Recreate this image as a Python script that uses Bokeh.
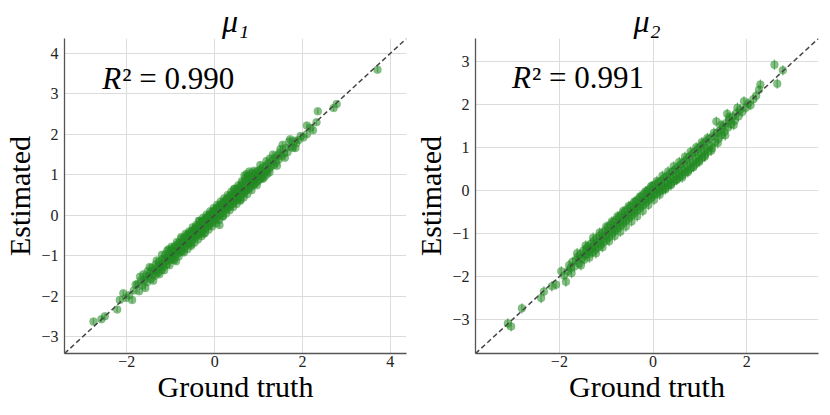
from bokeh.plotting import figure
from bokeh.layouts import row
from bokeh.models import ColumnDataSource, Label, Slope, FixedTicker
from bokeh.embed import file_html
from bokeh.resources import INLINE

# ---------------- data ----------------
titles = ["μ₁", "μ₂"]
r2_texts = ["0.990", "0.991"]
xlabel = "Ground truth"
ylabel = "Estimated"

mu1_true = [
    -2.76, -2.58, -2.50, -2.22, -2.16, -2.08, -2.02, -1.95, -1.88, -1.84,
    -1.80, -1.76, -1.72, -1.68, -1.65, -1.62, -1.60, -1.57, -1.54, -1.52,
    -1.50, -1.47, -1.45, -1.43, -1.41, -1.38, -1.36, -1.34, -1.33, -1.30,
    -1.29, -1.27, -1.25, -1.23, -1.21, -1.19, -1.18, -1.16, -1.14, -1.12,
    -1.11, -1.09, -1.07, -1.05, -1.04, -1.02, -1.00, -0.99, -0.97, -0.96,
    -0.94, -0.93, -0.91, -0.90, -0.88, -0.87, -0.85, -0.84, -0.83, -0.81,
    -0.80, -0.79, -0.77, -0.76, -0.75, -0.73, -0.72, -0.71, -0.69, -0.68,
    -0.67, -0.65, -0.64, -0.63, -0.61, -0.60, -0.59, -0.57, -0.56, -0.55,
    -0.53, -0.52, -0.51, -0.49, -0.48, -0.47, -0.45, -0.44, -0.43, -0.41,
    -0.40, -0.39, -0.37, -0.36, -0.35, -0.33, -0.32, -0.31, -0.29, -0.28,
    -0.27, -0.25, -0.24, -0.23, -0.21, -0.20, -0.19, -0.17, -0.16, -0.15,
    -0.13, -0.12, -0.11, -0.09, -0.08, -0.07, -0.05, -0.04, -0.03, -0.01,
    0.00, 0.01, 0.03, 0.04, 0.05, 0.07, 0.08, 0.09, 0.11, 0.12,
    0.13, 0.15, 0.16, 0.17, 0.19, 0.20, 0.21, 0.23, 0.24, 0.25,
    0.27, 0.28, 0.29, 0.31, 0.32, 0.33, 0.35, 0.36, 0.37, 0.39,
    0.40, 0.41, 0.43, 0.44, 0.45, 0.47, 0.48, 0.49, 0.51, 0.52,
    0.53, 0.55, 0.56, 0.57, 0.59, 0.60, 0.61, 0.63, 0.64, 0.65,
    0.67, 0.68, 0.69, 0.71, 0.72, 0.73, 0.75, 0.76, 0.77, 0.79,
    0.80, 0.82, 0.83, 0.85, 0.86, 0.88, 0.89, 0.91, 0.92, 0.94,
    0.95, 0.97, 0.98, 1.00, 1.02, 1.03, 1.05, 1.07, 1.08, 1.10,
    1.12, 1.14, 1.16, 1.18, 1.20, 1.22, 1.24, 1.26, 1.28, 1.31,
    1.34, 1.37, 1.40, 1.43, 1.46, 1.49, 1.52, 1.55, 1.58, 1.62,
    1.66, 1.70, 1.74, 1.78, 1.82, 1.86, 1.91, 1.96, 2.02, 2.10,
    2.10, 2.18, 2.24, 2.32, 2.35, 2.71, 2.78, 3.71,
    -1.70, -1.58, -1.48, -1.40, -1.32, -1.26, -1.20, -1.15, -1.08, -1.03,
    -0.98, -0.92, -0.86, -0.82, -0.76, -0.70, -0.66, -0.62, -0.58, -0.54,
    -0.50, -0.46, -0.42, -0.38, -0.34, -0.30, -0.26, -0.22, -0.18, -0.14,
    -0.10, -0.06, -0.02, 0.02, 0.06, 0.10, 0.14, 0.18, 0.22, 0.26,
    0.30, 0.34, 0.38, 0.42, 0.46, 0.50, 0.54, 0.58, 0.62, 0.66,
    0.70, 0.74, 0.78, 0.84, 0.90, 0.96, 1.04, 1.10, 1.18, 1.25,
    1.33, 1.42, 1.50, 1.60, 1.72, 1.84,
]
mu1_est = [
    -2.63, -2.57, -2.50, -2.33, -2.10, -1.93, -2.05, -1.98, -2.10, -1.86,
    -1.72, -1.70, -1.88, -1.62, -1.74, -1.46, -1.60, -1.52, -1.66, -1.38,
    -1.50, -1.42, -1.58, -1.30, -1.46, -1.36, -1.50, -1.22, -1.38, -1.28,
    -1.42, -1.15, -1.30, -1.22, -1.36, -1.08, -1.20, -1.28, -1.06, -1.14,
    -0.96, -1.22, -1.04, -0.84, -1.12, -0.98, -1.06, -0.86, -0.95, -1.10,
    -0.82, -0.98, -0.90, -0.76, -1.14, -0.88, -0.96, -0.72, -0.84, -0.92,
    -0.68, -0.80, -0.86, -0.54, -0.74, -0.90, -0.64, -0.70, -0.80, -0.56,
    -0.66, -0.74, -0.50, -0.62, -0.70, -0.48, -0.58, -0.68, -0.44, -0.54,
    -0.72, -0.40, -0.50, -0.58, -0.36, -0.46, -0.54, -0.32, -0.42, -0.50,
    -0.28, -0.38, -0.48, -0.14, -0.34, -0.44, -0.20, -0.30, -0.40, -0.16,
    -0.26, -0.46, -0.12, -0.22, -0.32, -0.08, -0.18, -0.28, -0.04, -0.14,
    -0.24, 0.00, -0.10, -0.20, 0.04, -0.06, -0.16, 0.08, -0.02, -0.12,
    0.12, 0.02, -0.08, 0.16, 0.06, -0.04, 0.20, 0.10, -0.24, 0.24,
    0.14, 0.04, 0.28, 0.18, -0.02, 0.32, 0.22, 0.12, 0.36, 0.26,
    0.16, 0.40, 0.30, 0.20, 0.44, 0.34, 0.24, 0.48, 0.38, 0.28,
    0.52, 0.42, 0.32, 0.64, 0.46, 0.36, 0.60, 0.50, 0.40, 0.64,
    0.54, 0.44, 0.68, 0.58, 0.38, 0.74, 0.62, 0.52, 0.80, 0.66,
    0.56, 0.98, 0.70, 0.60, 0.86, 1.02, 0.64, 0.90, 0.78, 1.08,
    0.68, 0.94, 0.82, 0.72, 1.04, 0.86, 0.76, 1.00, 0.90, 0.80,
    1.06, 0.94, 0.84, 1.10, 0.98, 0.88, 1.14, 1.02, 0.92, 1.18,
    1.06, 0.96, 1.22, 1.10, 1.02, 1.28, 1.14, 1.40, 1.20, 1.34,
    1.24, 1.42, 1.30, 1.48, 1.38, 1.56, 1.46, 1.74, 1.52, 1.66,
    1.56, 1.82, 1.70, 1.66, 1.84, 1.78, 1.86, 1.96, 1.92, 2.00,
    2.22, 2.16, 2.10, 2.30, 2.57, 2.65, 2.75, 3.60,
    -1.52, -1.80, -1.28, -1.62, -1.12, -1.46, -0.98, -1.36, -0.88, -1.24,
    -0.78, -1.10, -0.66, -1.02, -0.58, -0.92, -0.46, -0.84, -0.40, -0.76,
    -0.30, -0.68, -0.24, -0.60, -0.14, -0.52, -0.06, -0.44, 0.02, -0.36,
    0.10, -0.28, 0.18, -0.20, 0.26, -0.12, 0.34, -0.04, 0.42, 0.04,
    0.50, 0.12, 0.58, 0.20, 0.66, 0.28, 0.74, 0.36, 0.84, 0.44,
    0.92, 0.52, 0.98, 0.62, 1.10, 0.74, 1.24, 0.90, 1.34, 1.06,
    1.50, 1.22, 1.64, 1.42, 1.88, 1.66,
]
mu1_err = 0.07

mu2_true = [
    -3.10, -3.03, -2.80, -2.39, -2.33, -2.16, -2.07, -1.96, -1.90, -1.86,
    -1.82, -1.79, -1.76, -1.72, -1.68, -1.64, -1.61, -1.58, -1.55, -1.52,
    -1.49, -1.47, -1.45, -1.43, -1.41, -1.39, -1.37, -1.35, -1.33, -1.31,
    -1.29, -1.27, -1.25, -1.23, -1.21, -1.19, -1.17, -1.15, -1.13, -1.11,
    -1.09, -1.07, -1.05, -1.03, -1.01, -0.99, -0.97, -0.95, -0.93, -0.91,
    -0.89, -0.87, -0.85, -0.83, -0.81, -0.79, -0.77, -0.75, -0.73, -0.71,
    -0.69, -0.67, -0.65, -0.63, -0.61, -0.59, -0.57, -0.55, -0.53, -0.51,
    -0.49, -0.47, -0.45, -0.43, -0.41, -0.39, -0.37, -0.35, -0.33, -0.31,
    -0.29, -0.27, -0.25, -0.23, -0.21, -0.19, -0.17, -0.15, -0.13, -0.11,
    -0.09, -0.07, -0.05, -0.03, -0.01, 0.01, 0.03, 0.05, 0.07, 0.09,
    0.11, 0.13, 0.15, 0.17, 0.19, 0.21, 0.23, 0.25, 0.27, 0.29,
    0.31, 0.33, 0.35, 0.37, 0.39, 0.41, 0.43, 0.45, 0.47, 0.49,
    0.51, 0.53, 0.55, 0.57, 0.59, 0.61, 0.63, 0.65, 0.67, 0.69,
    0.71, 0.73, 0.75, 0.77, 0.79, 0.81, 0.83, 0.85, 0.87, 0.89,
    0.91, 0.93, 0.95, 0.97, 0.99, 1.01, 1.03, 1.05, 1.07, 1.09,
    1.11, 1.13, 1.15, 1.17, 1.20, 1.23, 1.26, 1.29, 1.32, 1.35,
    1.37, 1.40, 1.43, 1.46, 1.49, 1.52, 1.55, 1.58, 1.60, 1.63,
    1.66, 1.70, 1.74, 1.78, 1.82, 1.86, 1.90, 1.94, 1.98, 2.03,
    2.08, 2.14, 2.20, 2.26, 2.29, 2.59, 2.65, 2.77,
    -1.74, -1.62, -1.54, -1.44, -1.36, -1.28, -1.22, -1.14, -1.08, -1.00,
    -0.94, -0.88, -0.82, -0.76, -0.70, -0.64, -0.58, -0.52, -0.46, -0.40,
    -0.34, -0.28, -0.22, -0.16, -0.10, -0.04, 0.02, 0.08, 0.14, 0.20,
    0.26, 0.32, 0.38, 0.44, 0.50, 0.56, 0.62, 0.68, 0.74, 0.80,
    0.86, 0.92, 0.98, 1.04, 1.10, 1.16, 1.24, 1.30, 1.38, 1.45,
    1.54, 1.62, 1.72, 1.80,
]
mu2_est = [
    -3.09, -3.16, -2.74, -2.50, -2.35, -2.23, -2.19, -1.88, -1.98, -2.12,
    -1.88, -1.74, -1.80, -1.66, -1.77, -1.62, -1.54, -1.70, -1.48, -1.58,
    -1.40, -1.61, -1.50, -1.36, -1.44, -1.30, -1.48, -1.38, -1.24, -1.34,
    -1.44, -1.18, -1.28, -1.38, -1.12, -1.22, -1.32, -1.06, -1.16, -1.26,
    -1.00, -1.10, -1.20, -0.94, -1.04, -1.14, -0.86, -0.98, -1.08, -0.80,
    -0.92, -1.00, -0.74, -0.86, -0.94, -0.68, -0.80, -0.88, -0.62, -0.74,
    -0.82, -0.56, -0.68, -0.76, -0.50, -0.62, -0.70, -0.44, -0.56, -0.64,
    -0.38, -0.50, -0.58, -0.32, -0.44, -0.52, -0.26, -0.38, -0.46, -0.20,
    -0.32, -0.40, -0.14, -0.26, -0.34, -0.08, -0.20, -0.28, -0.02, -0.14,
    -0.22, 0.04, -0.08, -0.16, 0.10, -0.02, -0.10, 0.14, 0.02, -0.06,
    0.18, 0.06, -0.02, 0.22, 0.10, 0.02, 0.28, 0.16, 0.06, 0.32,
    0.20, 0.12, 0.38, 0.26, 0.16, 0.44, 0.30, 0.22, 0.48, 0.36,
    0.26, 0.54, 0.40, 0.32, 0.60, 0.46, 0.36, 0.66, 0.50, 0.42,
    0.72, 0.56, 0.46, 0.78, 0.62, 0.52, 0.84, 0.66, 0.58, 0.90,
    0.74, 0.64, 0.96, 0.80, 0.70, 1.02, 0.86, 0.76, 1.08, 0.92,
    0.82, 1.14, 0.98, 0.90, 1.20, 1.04, 0.98, 1.26, 1.12, 1.60,
    1.34, 1.20, 1.40, 1.28, 1.48, 1.36, 1.56, 1.78, 1.46, 1.64,
    1.54, 1.72, 1.62, 1.80, 1.72, 1.88, 1.82, 2.07, 1.92, 2.02,
    1.98, 2.12, 2.20, 2.34, 2.46, 2.92, 2.48, 2.79,
    -1.92, -1.46, -1.74, -1.28, -1.56, -1.10, -1.46, -0.98, -1.32, -0.84,
    -1.18, -0.72, -1.06, -0.60, -0.96, -0.48, -0.84, -0.36, -0.72, -0.26,
    -0.60, -0.14, -0.48, -0.02, -0.34, 0.10, -0.22, 0.22, -0.10, 0.34,
    0.02, 0.44, 0.12, 0.56, 0.24, 0.66, 0.30, 0.78, 0.42, 0.90,
    0.54, 1.00, 0.66, 1.12, 0.78, 1.22, 0.92, 1.34, 1.10, 1.52,
    1.28, 1.70, 1.52, 1.92,
]
mu2_err = 0.12

ranges = [(-3.42, 4.37), (-3.79, 3.53)]
xticks = [[-2, 0, 2, 4], [-2, 0, 2]]
yticks = [[-3, -2, -1, 0, 1, 2, 3, 4], [-3, -2, -1, 0, 1, 2, 3]]
r2_pos = [(-2.56, 3.37), (-3.01, 2.63)]

GREEN = "#228B22"
FONT = "Liberation Serif"


def minus(v):
    return ("\u2212" + str(-v)) if v < 0 else str(v)


def make_panel(i, xs, ys, err, fw, border_left, border_right):
    lo, hi = ranges[i]
    p = figure(frame_width=fw, frame_height=315,
               x_range=(lo, hi), y_range=(lo, hi),
               output_backend="svg", toolbar_location=None,
               min_border_left=border_left, min_border_right=border_right,
               min_border_top=28, min_border_bottom=53)
    p.title.text = titles[i]
    p.title.align = "center"
    p.title.text_font = FONT
    p.title.text_font_size = "32px"
    p.title.text_font_style = "italic"
    p.title.text_color = "black"
    p.title.standoff = 0
    p.outline_line_color = None
    p.background_fill_color = "white"
    p.border_fill_color = "white"

    for ax in (p.xaxis[0], p.yaxis[0]):
        ax.axis_line_color = "#555555"
        ax.axis_line_width = 1.3
        ax.major_tick_in = 0
        ax.major_tick_out = 0
        ax.minor_tick_in = 0
        ax.minor_tick_out = 0
        ax.major_tick_line_color = None
        ax.minor_tick_line_color = None
        ax.major_label_text_font = FONT
        ax.major_label_text_font_size = "16px"
        ax.major_label_text_color = "#222222"
        ax.axis_label_text_font = FONT
        ax.axis_label_text_font_size = "30px"
        ax.axis_label_text_font_style = "normal"
        ax.axis_label_text_color = "black"
        ax.major_label_standoff = 2
        ax.axis_label_standoff = 0
    p.yaxis[0].major_label_standoff = 6
    p.yaxis[0].axis_label_standoff = 2
    p.xaxis[0].ticker = FixedTicker(ticks=xticks[i])
    p.yaxis[0].ticker = FixedTicker(ticks=yticks[i])
    p.xaxis[0].major_label_overrides = {t: minus(t) for t in xticks[i]}
    p.yaxis[0].major_label_overrides = {t: minus(t) for t in yticks[i]}
    p.xaxis[0].axis_label = xlabel
    p.yaxis[0].axis_label = ylabel

    for g in (p.xgrid[0], p.ygrid[0]):
        g.grid_line_color = "#dcdcdc"
        g.grid_line_width = 1
    p.xgrid[0].ticker = p.xaxis[0].ticker
    p.ygrid[0].ticker = p.yaxis[0].ticker

    src = ColumnDataSource(dict(
        x=xs, y=ys,
        lo=[v - err for v in ys], hi=[v + err for v in ys],
    ))
    p.segment(x0="x", y0="lo", x1="x", y1="hi", source=src,
              line_color=GREEN, line_alpha=0.55, line_width=1.3)
    p.scatter(x="x", y="y", source=src, size=8, marker="circle",
              fill_color=GREEN, fill_alpha=0.55, line_color=GREEN,
              line_alpha=0.3, line_width=0.5)

    p.add_layout(Slope(gradient=1, y_intercept=0, line_color="#444444",
                       line_dash="5 3", line_width=1.5))

    rx, ry = r2_pos[i]
    p.add_layout(Label(x=rx, y=ry, text="R", text_font=FONT,
                       text_font_size="31px", text_font_style="italic",
                       text_baseline="alphabetic", text_color="black"))
    p.add_layout(Label(x=rx, y=ry, x_offset=20, text="² = " + r2_texts[i],
                       text_font=FONT, text_font_size="31px",
                       text_baseline="alphabetic", text_color="black"))
    return p


p1 = make_panel(0, mu1_true, mu1_est, mu1_err, 342, 60, 5)
p2 = make_panel(1, mu2_true, mu2_est, mu2_err, 343, 62, 2)
layout = row(p1, p2)

open("out.html", "w").write(file_html(layout, INLINE))
